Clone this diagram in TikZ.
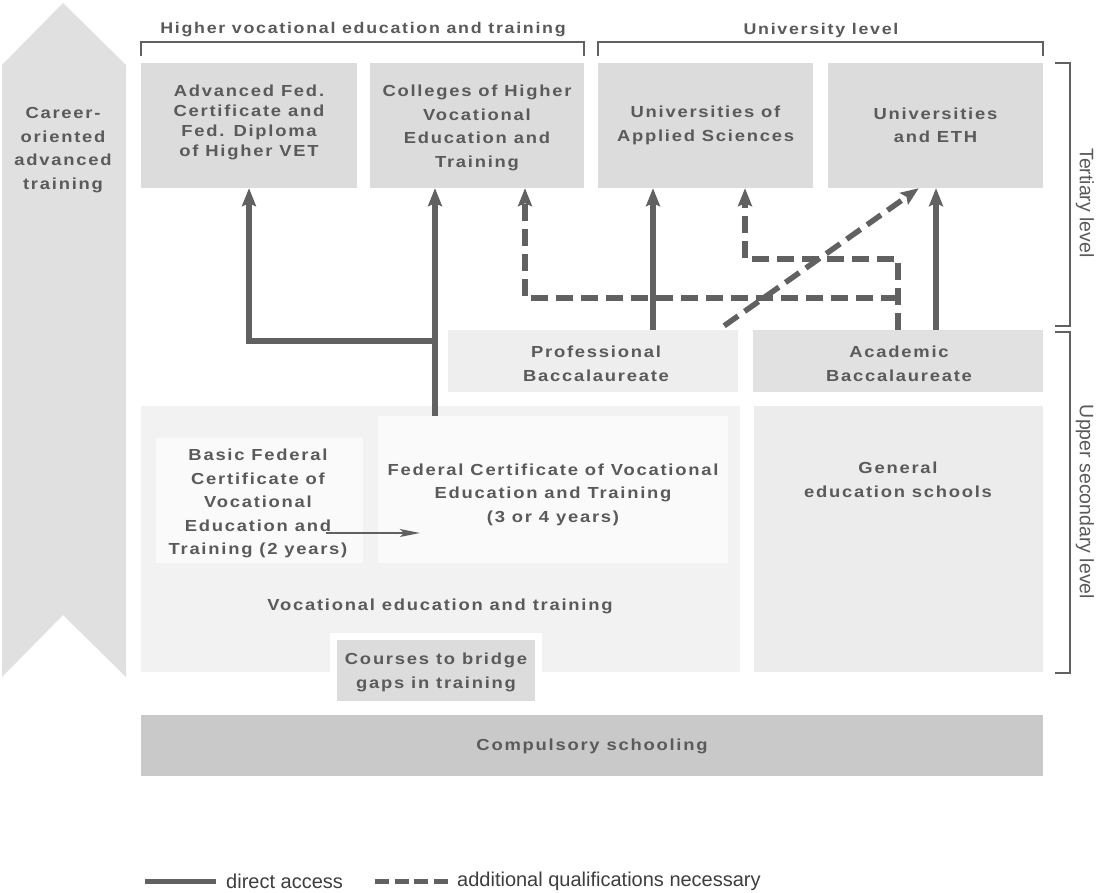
\documentclass[tikz,border=0pt]{standalone}
\usepackage{fontspec}
\setmainfont{Liberation Sans}
\newfontfamily\bxfont{Liberation Sans}[FakeStretch=1.15,LetterSpace=11]
\usetikzlibrary{arrows.meta,calc}
\definecolor{ink}{HTML}{5A5A5A}
\definecolor{linec}{HTML}{616161}
\definecolor{topc}{HTML}{DCDCDC}
\definecolor{arrowc}{HTML}{E0E0E0}
\definecolor{profc}{HTML}{EEEEEE}
\definecolor{acadc}{HTML}{E1E1E1}
\definecolor{vetc}{HTML}{F2F2F2}
\definecolor{innerc}{HTML}{FAFAFA}
\definecolor{genc}{HTML}{ECECEC}
\definecolor{coursec}{HTML}{DCDCDC}
\definecolor{compc}{HTML}{C9C9C9}
\definecolor{legc}{HTML}{3E3E3E}
\tikzset{
  bxtext/.style={inner sep=0pt, align=center, text=ink, font=\bxfont\bfseries\fontsize{16}{23.5}\selectfont},
  hdtext/.style={bxtext, font=\bxfont\bfseries\fontsize{15.5}{20}\selectfont},
  box/.style={bxtext, minimum height=125pt},
  solidarr/.style={draw=linec, line width=5.5pt, -{Stealth[length=18pt,width=14pt,inset=3pt]}},
  dasharr/.style={draw=linec, line width=5.5pt, dash pattern=on 17pt off 8pt, -{Stealth[length=18pt,width=14pt,inset=3pt]}},
  thinarr/.style={draw=linec, line width=1.3pt, -{Stealth[length=20pt,width=8pt,inset=4pt]}},
  brk/.style={draw=linec, line width=1.3pt},
  sidefont/.style={inner sep=0pt, text=ink, font=\fontsize{19.5}{22}\selectfont},
  legfont/.style={inner sep=0pt, text=legc, font=\fontsize{20}{22}\selectfont}
}
\begin{document}
\begin{tikzpicture}[x=1pt,y=-1pt]
\useasboundingbox (0,0) rectangle (1097,893);
\fill[white] (0,0) rectangle (1097,893);

% career-oriented advanced training arrow
\fill[arrowc] (2,65) -- (63,3) -- (126,65) -- (126,677) -- (63,615) -- (2,677) -- cycle;
\node[bxtext] (career) at (63,150) {Career-\\oriented\\advanced\\training};

% top brackets
\draw[brk] (141,56) -- (141,42) -- (584,42) -- (584,56);
\node[hdtext] (hvet) at (363,30) {Higher vocational education and training};
\draw[brk] (598,56) -- (598,42) -- (1043,42) -- (1043,56);
\node[hdtext] (ulev) at (821,30) {University level};

% tertiary boxes
\node[box, fill=topc, minimum width=216pt] (adv) at (249,125.5) {};
\node[bxtext, font=\bxfont\bfseries\fontsize{16}{20}\selectfont] (advtxt) at (249,122) {Advanced Fed.\\Certificate and\\Fed. Diploma\\of Higher VET};
\node[box, fill=topc, minimum width=214pt] (col) at (477,125.5) {};
\node[bxtext] (coltxt) at (477,128) {Colleges of Higher\\Vocational\\Education and\\Training};
\node[box, fill=topc, minimum width=215pt] (uas) at (705.5,125.5) {Universities of\\Applied Sciences};
\node[box, fill=topc, minimum width=215pt] (uni) at (935.5,125.5) {Universities\\and ETH};

% baccalaureates
\node[bxtext, fill=profc, minimum width=290pt, minimum height=62pt] (pb) at (593,361) {};
\node[bxtext] (pbtxt) at (596,364) {Professional\\Baccalaureate};
\node[bxtext, fill=acadc, minimum width=290pt, minimum height=62pt] (ab) at (898,361) {};
\node[bxtext] (abtxt) at (899,364) {Academic\\Baccalaureate};

% upper secondary
\node[bxtext, fill=vetc, minimum width=599pt, minimum height=266pt] (vet) at (440.5,539) {};
\node[bxtext] (vetlbl) at (440,606) {Vocational education and training};
\node[bxtext, fill=innerc, minimum width=207pt, minimum height=125pt] (basic) at (259.5,500.5) {};
\node[bxtext] (basictxt) at (258,503.5) {Basic Federal\\Certificate of\\Vocational\\Education and\\Training (2 years)};
\node[bxtext, fill=innerc, minimum width=350pt, minimum height=147pt] (fed) at (553,489.5) {};
\node[bxtext] (fedtxt) at (553,494.5) {Federal Certificate of Vocational\\Education and Training\\(3 or 4 years)};
\node[bxtext, fill=genc, minimum width=289pt, minimum height=266pt] (ges) at (898.5,539) {};
\node[bxtext] (geslbl) at (898,480) {General\\education schools};

% bridging courses
\fill[white] (330,633) rectangle (542,672);
\node[bxtext, fill=coursec, minimum width=198pt, minimum height=61pt] (courses) at (436,670.5) {};
\node[bxtext] (coursetxt) at (436,672.5) {Courses to bridge\\gaps in training};

% compulsory schooling
\node[bxtext, fill=compc, minimum width=902pt, minimum height=61pt] (comp) at (592,745.5) {};
\node[bxtext] (comptxt) at (592,746.5) {Compulsory schooling};

% right brackets
\draw[brk] (1055,63) -- (1070,63) -- (1070,326) -- (1055,326);
\draw[brk] (1055,332) -- (1070,332) -- (1070,673) -- (1055,673);
\node[sidefont, rotate=-90] (tert) at (1085,203) {Tertiary level};
\node[sidefont, rotate=-90] (usec) at (1085,502) {Upper secondary level};

% connectors
\coordinate (jn) at (435,341);
\draw[solidarr] (fed.north -| 435,0) -- (col.south -| 435,0);
\draw[solidarr] (jn) -| (adv.south);
\draw[solidarr] (pb.north -| 653,0) -- (uas.south -| 653,0);
\draw[solidarr] (ab.north -| 936,0) -- (uni.south -| 936,0);
\draw[dasharr] (ab.north -| 898,0) -- (898,259) -- (745,259) -- (uas.south -| 745,0);
\coordinate (dj) at (898,298);
\draw[dasharr] (dj) -- (525,298) -- (col.south -| 525,0);
\draw[dasharr] ($(pb.north east)+(-14,-4)$) -- ($(uni.south west)+(91,0)$);
\draw[thinarr] ($(basic.east)+(-37,32.5)$) -- ($(fed.west)+(42,43.5)$);

% legend
\coordinate (l1a) at (145,881);
\coordinate (l1b) at (216,881);
\draw[draw=linec, line width=5pt] (l1a) -- (l1b);
\node[legfont, anchor=west] (lg1) at (226,881) {direct access};
\coordinate (l2a) at (375,881);
\coordinate (l2b) at (452,881);
\draw[draw=linec, line width=5pt, dash pattern=on 14pt off 5.5pt] (l2a) -- (l2b);
\node[legfont, anchor=west] (lg2) at (457,881) {additional qualifications necessary};
\end{tikzpicture}
\end{document}
